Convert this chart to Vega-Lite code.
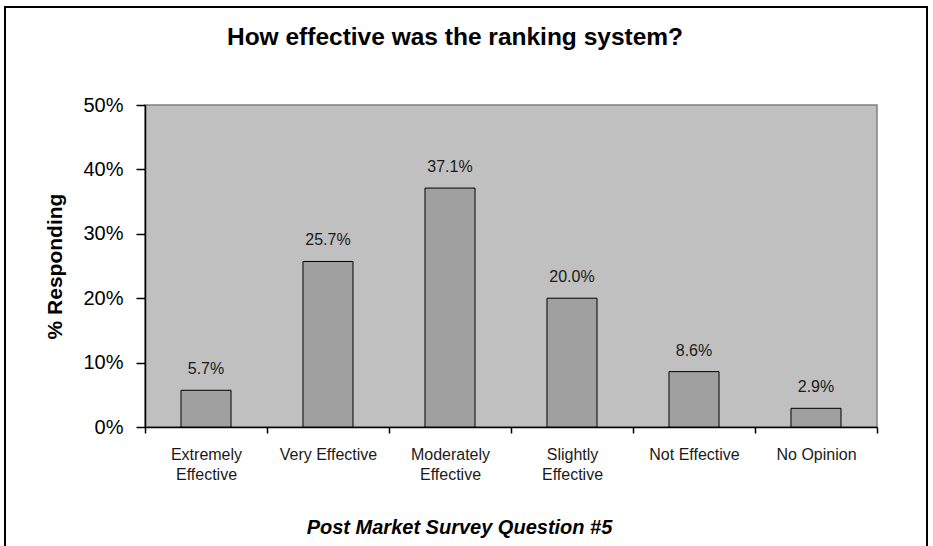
{
  "$schema": "https://vega.github.io/schema/vega-lite/v6.json",
  "width": 732,
  "height": 322,
  "padding": {"left": 4, "top": 6, "right": 0, "bottom": 0},
  "background": "white",
  "title": {
    "text": "How effective was the ranking system?",
    "font": "Liberation Sans",
    "fontSize": 24.5,
    "fontWeight": "bold",
    "color": "#000000",
    "offset": -44,
    "dx": -56
  },
  "config": {
    "font": "Liberation Sans",
    "view": {"fill": "#c0c0c0", "stroke": "#808080", "strokeWidth": 1.5}
  },
  "layer": [
    {
      "data": {
        "values": [
          {"response": "Extremely Effective", "percent": 0.057},
          {"response": "Very Effective", "percent": 0.257},
          {"response": "Moderately Effective", "percent": 0.371},
          {"response": "Slightly Effective", "percent": 0.200},
          {"response": "Not Effective", "percent": 0.086},
          {"response": "No Opinion", "percent": 0.029}
        ]
      },
      "layer": [
        {
          "mark": {"type": "bar", "width": {"band": 0.41}, "fill": "#a0a0a0", "stroke": "#000000", "strokeWidth": 1},
          "encoding": {
            "x": {
              "field": "response",
              "type": "nominal",
              "sort": null,
              "scale": {"paddingInner": 0, "paddingOuter": 0},
              "axis": {
                "title": "Post Market Survey Question #5",
                "titleFont": "Liberation Sans",
                "titleFontSize": 20,
                "titleFontWeight": "bold",
                "titleFontStyle": "italic",
                "titleColor": "#000000",
                "titleX": 314,
                "titleY": 106,
                "titleBaseline": "alphabetic",
                "titleAlign": "center",
                "labelAngle": 0,
                "labelFontSize": 16,
                "labelColor": "#1a1a1a",
                "labelPadding": 13,
                "labelLineHeight": 20.5,
                "labelLimit": 200,
                "labelOverlap": false,
                "labelExpr": "indexof(['Extremely Effective','Moderately Effective','Slightly Effective'], datum.label) >= 0 ? split(datum.label, ' ') : datum.label",
                "tickBand": "extent",
                "tickSize": 6,
                "tickColor": "#000000",
                "tickWidth": 1.5,
                "domainColor": "#000000",
                "domainWidth": 1.5
              }
            },
            "y": {
              "field": "percent",
              "type": "quantitative",
              "scale": {"domain": [0, 0.5]},
              "axis": {
                "title": "% Responding",
                "values": [0, 0.1, 0.2, 0.3, 0.4, 0.5],
                "format": ".0%",
                "grid": false,
                "labelFontSize": 20,
                "labelColor": "#000000",
                "labelPadding": 13,
                "tickSize": 9,
                "tickColor": "#000000",
                "tickWidth": 1.5,
                "domainColor": "#000000",
                "domainWidth": 1.5,
                "titleFontSize": 21,
                "titleFontWeight": "bold",
                "titleColor": "#000000",
                "titleX": -84,
                "titleBaseline": "alphabetic"
              }
            }
          }
        },
        {
          "mark": {"type": "text", "dy": -16, "baseline": "alphabetic", "fontSize": 16, "color": "#1a1a1a"},
          "encoding": {
            "x": {"field": "response", "type": "nominal", "sort": null},
            "y": {"field": "percent", "type": "quantitative"},
            "text": {"field": "percent", "type": "quantitative", "format": ".1%"}
          }
        }
      ]
    },
    {
      "data": {"values": [{}]},
      "mark": {"type": "rect", "filled": false, "stroke": "#000000", "strokeWidth": 2},
      "encoding": {
        "x": {"datum": 0, "type": "quantitative", "scale": {"domain": [0, 1], "range": [-140, 782]}, "axis": null},
        "x2": {"datum": 1},
        "y": {"datum": 0, "type": "quantitative", "scale": {"domain": [0, 1], "range": [455, -98]}, "axis": null},
        "y2": {"datum": 1}
      }
    }
  ],
  "resolve": {
    "scale": {"x": "independent", "y": "independent"},
    "axis": {"x": "independent", "y": "independent"}
  }
}
